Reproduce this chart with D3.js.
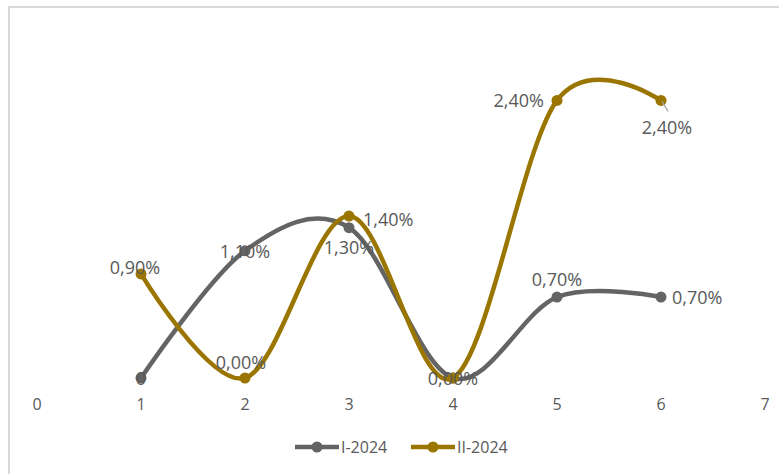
<!DOCTYPE html>
<html>
<head>
<meta charset="utf-8">
<script src="https://cdn.jsdelivr.net/npm/d3@7"></script>
<style>
  body { margin: 0; background: #fff; }
  text { font-family: "Open Sans", "Liberation Sans", sans-serif; fill: #595959; }
</style>
</head>
<body>
<svg id="chart" width="779" height="474"></svg>
<script>
// data
var xValues = [1, 2, 3, 4, 5, 6];
var xTicks = [0, 1, 2, 3, 4, 5, 6, 7];
var seriesNames = ['I-2024', 'II-2024'];
var valuesI = [0, 1.1, 1.3, 0, 0.7, 0.7];
var valuesII = [0.9, 0, 1.4, 0, 2.4, 2.4];
var labelsI = ['0', '1,10%', '1,30%', '0,00%', '0,70%', '0,70%'];
var labelsII = ['0,90%', '0,00%', '1,40%', '', '2,40%', '2,40%'];

// where excel put each data label
var placeI = ['center', 'center', 'below', 'center', 'above', 'right'];
var placeII = ['aboveleft', 'above', 'right', 'center', 'left', 'below'];

var colors = ['#646464', '#9a7600'];

var svg = d3.select('#chart');

// chart border
svg.append('rect')
    .attr('x', 9).attr('y', 7)
    .attr('width', 800).attr('height', 500)
    .attr('fill', 'none')
    .attr('stroke', '#d9d9d9')
    .attr('stroke-width', 2);

var x = d3.scaleLinear().domain([0, 7]).range([37, 765]);
var y = d3.scaleLinear().domain([0, 3]).range([378, 31]);

// x tick labels (no axis line)
svg.selectAll('.tick-label')
    .data(xTicks)
    .enter()
    .append('text')
    .attr('class', 'tick-label')
    .attr('x', function (d) { return x(d); })
    .attr('y', 410)
    .style('text-anchor', 'middle')
    .style('font-size', '16px')
    .text(function (d) { return d; });

var line = d3.line()
    .x(function (d) { return x(d.x); })
    .y(function (d) { return y(d.v); })
    .curve(d3.curveCardinal.tension(0));

var series = [
    { name: seriesNames[0], values: valuesI, labels: labelsI, place: placeI, color: colors[0] },
    { name: seriesNames[1], values: valuesII, labels: labelsII, place: placeII, color: colors[1] }
];

series.forEach(function (s) {
    var pts = xValues.map(function (xv, i) { return { x: xv, v: s.values[i] }; });

    svg.append('path')
        .datum(pts)
        .attr('d', line)
        .attr('fill', 'none')
        .attr('stroke', s.color)
        .attr('stroke-width', 4.5)
        .attr('stroke-linecap', 'round');

    svg.selectAll('.m-' + s.name)
        .data(pts)
        .enter()
        .append('circle')
        .attr('cx', function (d) { return x(d.x); })
        .attr('cy', function (d) { return y(d.v); })
        .attr('r', 5.5)
        .attr('fill', s.color);
});

// data labels drawn after lines
series.forEach(function (s) {
    xValues.forEach(function (xv, i) {
        var lbl = s.labels[i];
        if (!lbl) return;
        var px = x(xv), py = y(s.values[i]);
        var p = s.place[i];
        var tx = px, ty = py, anchor = 'middle';
        if (p === 'above') { ty = py - 9; tx = px - 4; }
        if (p === 'aboveleft') { ty = py; tx = px - 6; }
        if (p === 'below') { ty = py + 26; }
        if (p === 'right') { tx = px + 11; anchor = 'start'; ty = py + 7; }
        if (p === 'left') { tx = px - 13; anchor = 'end'; ty = py + 7; }
        if (p === 'center') { ty = py + 7; }
        if (s.name === 'I-2024' && p === 'above') { ty = py - 11; tx = px; }
        if (s.name === 'II-2024' && p === 'right') { tx = px + 14; ty = py + 10; }
        if (p === 'below' && s.name === 'II-2024') {
            // leader line
            svg.append('line')
                .attr('x1', px + 1).attr('y1', py + 1)
                .attr('x2', px + 7).attr('y2', py + 11)
                .attr('stroke', '#a6a6a6').attr('stroke-width', 1.2);
            ty = py + 34;
            tx = px + 6;
        }
        svg.append('text')
            .attr('x', tx)
            .attr('y', ty)
            .style('text-anchor', anchor)
            .style('font-size', '18px')
            .text(lbl);
    });
});

// legend
var legend = svg.append('g').attr('class', 'legend');
var legX = [295, 411];
series.forEach(function (s, i) {
    var g = legend.append('g').attr('transform', 'translate(' + legX[i] + ',447)');
    g.append('line')
        .attr('x1', 0).attr('x2', 44)
        .attr('stroke', s.color).attr('stroke-width', 4.5);
    g.append('circle').attr('cx', 22).attr('r', 5.5).attr('fill', s.color);
    g.append('text')
        .attr('x', 46).attr('y', 6)
        .style('font-size', '16px')
        .text(s.name);
});
</script>
</body>
</html>
